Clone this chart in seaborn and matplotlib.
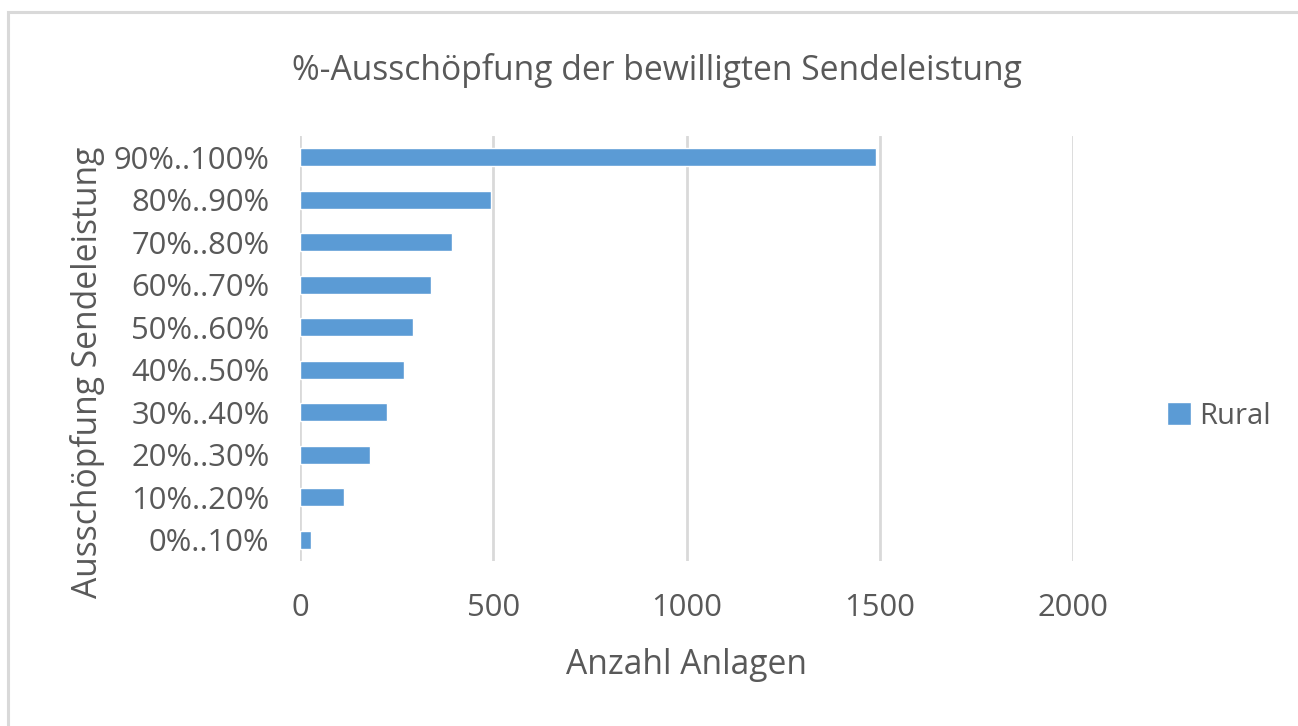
import matplotlib
matplotlib.use("Agg")
import matplotlib.pyplot as plt
import seaborn as sns
import pandas as pd
from matplotlib.patches import Rectangle

categories = ["90%..100%", "80%..90%", "70%..80%", "60%..70%", "50%..60%",
              "40%..50%", "30%..40%", "20%..30%", "10%..20%", "0%..10%"]
rural = [1490, 493, 393, 340, 292, 268, 225, 181, 115, 29]
xticks = [0, 500, 1000, 1500, 2000]

title = "%-Ausschöpfung der bewilligten Sendeleistung"
xlabel = "Anzahl Anlagen"
ylabel = "Ausschöpfung Sendeleistung"
series_name = "Rural"

sns.set_theme(style="white")
plt.rcParams['font.family'] = ['Open Sans', 'DejaVu Sans']

W, H = 1298, 726
fig = plt.figure(figsize=(W / 100, H / 100), dpi=100)
fig.patch.set_facecolor("white")

# Excel-like chart border (top and left visible)
fig.patches.append(Rectangle((8 / W, -0.1), 1.2, (H - 12) / H + 0.1,
                             transform=fig.transFigure, fill=False,
                             edgecolor="#d9d9d9", linewidth=2.2))

left, right, top, bottom = 300, 1073, 136, 561
ax = fig.add_axes([left / W, 1 - bottom / H, (right - left) / W, (bottom - top) / H])

df = pd.DataFrame({"cat": categories, "val": rural, "series": series_name})
sns.barplot(data=df, x="val", y="cat", hue="series", orient="h",
            palette=["#5B9BD5"], width=0.42, ax=ax, saturation=1)

ax.set_xlim(0, 2000)
ax.set_xticks(xticks)
ax.set_xticklabels([str(t) for t in xticks])
for s in ax.spines.values():
    s.set_visible(False)
ax.grid(axis="x", color="#d9d9d9", linewidth=2)
ax.grid(axis="y", visible=False)
ax.set_axisbelow(True)

txt = "#595959"
ax.tick_params(axis="both", length=0, labelsize=22.3, labelcolor=txt)
ax.tick_params(axis="y", pad=22)
ax.tick_params(axis="x", pad=23)

ax.set_xlabel(xlabel, fontsize=24.2, color=txt)
ax.xaxis.set_label_coords(0.5, (bottom - 648) / (bottom - top))
ax.set_ylabel(ylabel, fontsize=24.2, color=txt)
ax.yaxis.label.set_va("center")
ax.yaxis.set_label_coords((88 - left) / (right - left), (bottom - 372) / (bottom - top))

fig.text(657 / W, 1 - 71 / H, title, ha="center", va="center", fontsize=24.2, color=txt)

handles, labels = ax.get_legend_handles_labels()
ax.legend(handles, labels, loc="center left", bbox_to_anchor=(1141 / W, 1 - 416 / H),
          bbox_transform=fig.transFigure, frameon=False, fontsize=21,
          handlelength=0.8, handleheight=0.8, handletextpad=0.3, labelcolor=txt)

fig.savefig("out.png", dpi=100)
